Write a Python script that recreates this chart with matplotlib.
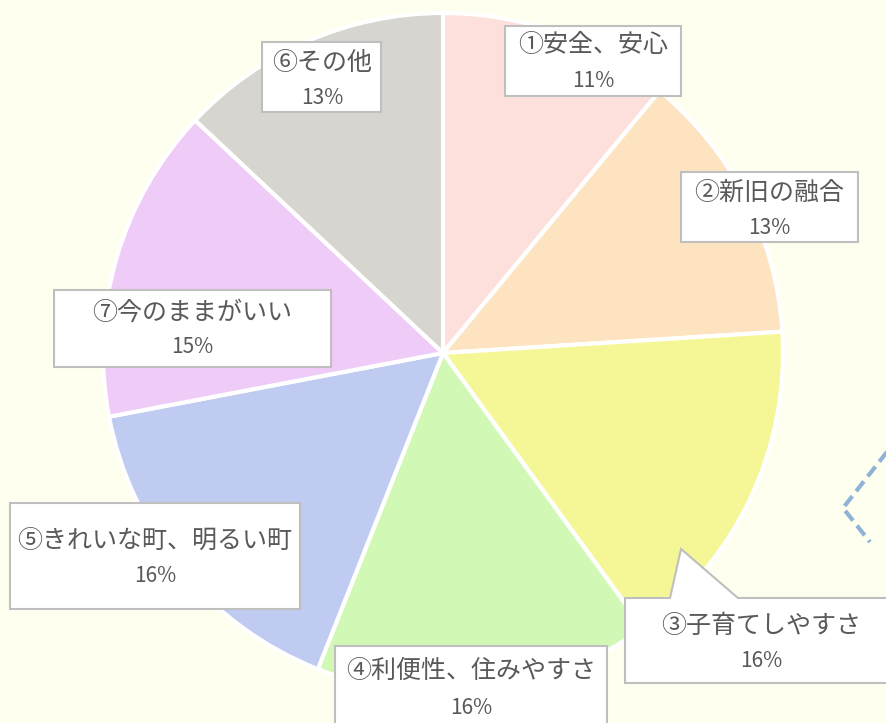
import matplotlib.pyplot as plt
from matplotlib.patches import Rectangle, Polygon

plt.rcParams['font.family'] = ['Noto Sans CJK JP', 'DejaVu Sans']

W, H = 886, 723

# slices in drawing order, clockwise from 12 o'clock
labels = ['①安全、安心', '②新旧の融合', '③子育てしやすさ', '④利便性、住みやすさ',
          '⑤きれいな町、明るい町', '⑦今のままがいい', '⑥その他']
shares = [11, 13, 16, 16, 16, 15, 13]
colors = ['#fde0dc', '#fde3bf', '#f5f797', '#d2f8b6', '#bfcbf0', '#efcbf8', '#d7d5cf']

# label boxes: left, top, right, bottom in pixels (top-left origin)
boxes = [(505, 26, 681, 96), (681, 172, 858, 242), (625, 598, 900, 683),
         (335, 646, 607, 740), (10, 503, 300, 609), (54, 290, 331, 367),
         (262, 42, 381, 112)]
text_x = [593, 769, 761, 471, 155, 192, 322]
name_y = [45, 193, 626, 671, 541, 313, 63]
pct_y = [81, 228, 661, 708, 576, 347, 98]


def fy(py):
    return H - py


fig = plt.figure(figsize=(W / 100, H / 100), dpi=100)
fig.patch.set_facecolor('#fffff0')
ax = fig.add_axes([0, 0, 1, 1])
ax.set_facecolor('#fffff0')

ax.pie(shares, colors=colors, startangle=90, counterclock=False,
       center=(443, fy(353)), radius=340,
       wedgeprops=dict(edgecolor='white', linewidth=3))

# dashed shape peeking in at the right edge
ax.plot([890, 843, 870], [fy(448), fy(508), fy(542)], color='#8fb3d6',
        linewidth=3, linestyle=(0, (3, 1.5)), solid_capstyle='butt')

for i, (l, t, r, b) in enumerate(boxes):
    if i == 2:
        pts = [(l, t), (670, t), (681, 549), (738, t), (r, t), (r, b), (l, b)]
        ax.add_patch(Polygon([(x, fy(y)) for x, y in pts], closed=True,
                             facecolor='white', edgecolor='#bfbfbf', linewidth=1.5,
                             zorder=3))
    else:
        ax.add_patch(Rectangle((l, fy(b)), r - l, b - t, facecolor='white',
                               edgecolor='#bfbfbf', linewidth=1.5, zorder=3))
    ax.text(text_x[i], fy(name_y[i]), labels[i], ha='center', va='center',
            fontsize=18, color='#595959', zorder=4)
    ax.text(text_x[i], fy(pct_y[i]), f'{shares[i]}%', ha='center', va='center',
            fontsize=15, color='#595959', zorder=4)

ax.set_xlim(0, W)
ax.set_ylim(0, H)
ax.set_aspect('auto')
ax.axis('off')

fig.savefig('out.png', dpi=100, facecolor=fig.get_facecolor())
